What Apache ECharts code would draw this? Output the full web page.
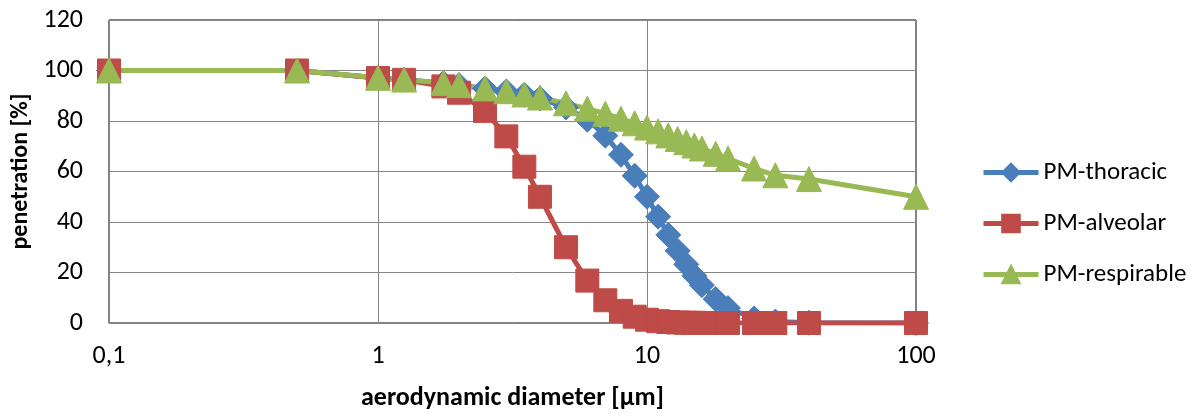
<!DOCTYPE html>
<html>
<head>
<meta charset="utf-8">
<script src="https://cdn.jsdelivr.net/npm/echarts@6/dist/echarts.min.js"></script>
<style>
html,body{margin:0;padding:0;background:#fff;}
#c{width:1199px;height:416px;}
</style>
</head>
<body>
<div id="c"></div>
<script>
// aerodynamic diameter [µm]
const diameters = [0.1,0.5,1,1.25,1.75,2,2.5,3,3.5,4,5,6,7,8,9,10,11,12,13,14,15,16,18,20,25,30,40,100];
const thoracic  = [100,100,97,96.4,95,94.2,92.9,91.7,90.4,88.9,85.4,80.5,74.2,66.6,58.3,50,42.1,34.9,28.6,23.2,18.7,15,9.5,5.9,1.8,0.6,0.1,0];
const alveolar  = [100,100,97,96.3,93.7,91.2,84,73.9,61.9,50,30,16.8,9,4.8,2.5,1.3,0.7,0.4,0.2,0.1,0.1,0,0,0,0,0,0,0];
const respirable= [100,100,97.1,96.4,95,94.2,92.9,91.8,90.5,89.3,87,84.9,82.9,80.9,79.1,77.4,75.9,74.3,72.9,71.6,70.3,69.1,67,65.1,61.2,58.5,57,50];
const seriesNames = ['PM-thoracic','PM-alveolar','PM-respirable'];
const yTicks = {min:0, max:120, step:20};
const xRange = {min:0.1, max:100};

const font = 'Carlito, Lato, "Open Sans", sans-serif';
const chart = echarts.init(document.getElementById('c'), null, {renderer:'canvas'});
const pairs = arr => diameters.map((d,i)=>[d, arr[i]]);
const mk = (name, arr, color, symbol, size) => ({
  name, type:'line', data: pairs(arr), symbol, symbolSize: size,
  lineStyle:{color, width:5}, itemStyle:{color, borderColor:color, borderWidth:1},
  animation:false, emphasis:{disabled:true}
});
chart.setOption({
  backgroundColor:'#fff',
  animation:false,
  grid:{left:109, right:283, top:20, bottom:88, show:true, borderColor:'#000', borderWidth:1},
  legend:{
    orient:'vertical', left:976, top:155, itemWidth:55, itemHeight:22, itemGap:26,
    lineStyle:{width:5},
    textStyle:{fontFamily:font, fontSize:25, color:'#000'},
    data: seriesNames
  },
  xAxis:{
    type:'log', logBase:10, min:xRange.min, max:xRange.max,
    name:'aerodynamic diameter [µm]', nameLocation:'middle', nameGap:62,
    nameTextStyle:{fontFamily:font, fontSize:26, fontWeight:'bold', color:'#000'},
    axisLine:{show:true, lineStyle:{color:'#868686', width:1}},
    axisTick:{show:false},
    splitLine:{show:true, lineStyle:{color:'#868686', width:1}},
    minorTick:{show:false},
    axisLabel:{fontFamily:font, fontSize:26, color:'#000', margin:20,
      formatter: v => (Math.abs(v-0.1)<1e-9 ? '0,1' : String(Math.round(v)))}
  },
  yAxis:{
    type:'value', min:yTicks.min, max:yTicks.max, interval:yTicks.step,
    name:'penetration [%]', nameLocation:'middle', nameGap:74,
    nameTextStyle:{fontFamily:font, fontSize:24, fontWeight:'bold', color:'#000'},
    axisLine:{show:true, lineStyle:{color:'#868686', width:1}},
    axisTick:{show:false},
    splitLine:{show:true, lineStyle:{color:'#868686', width:1}},
    axisLabel:{fontFamily:font, fontSize:26, color:'#000', margin:26}
  },
  series:[
    mk(seriesNames[0], thoracic, '#4A7EBB', 'diamond', 25),
    mk(seriesNames[1], alveolar, '#BE4B48', 'rect', 23),
    mk(seriesNames[2], respirable, '#98B954', 'triangle', 25)
  ]
});
</script>
</body>
</html>
